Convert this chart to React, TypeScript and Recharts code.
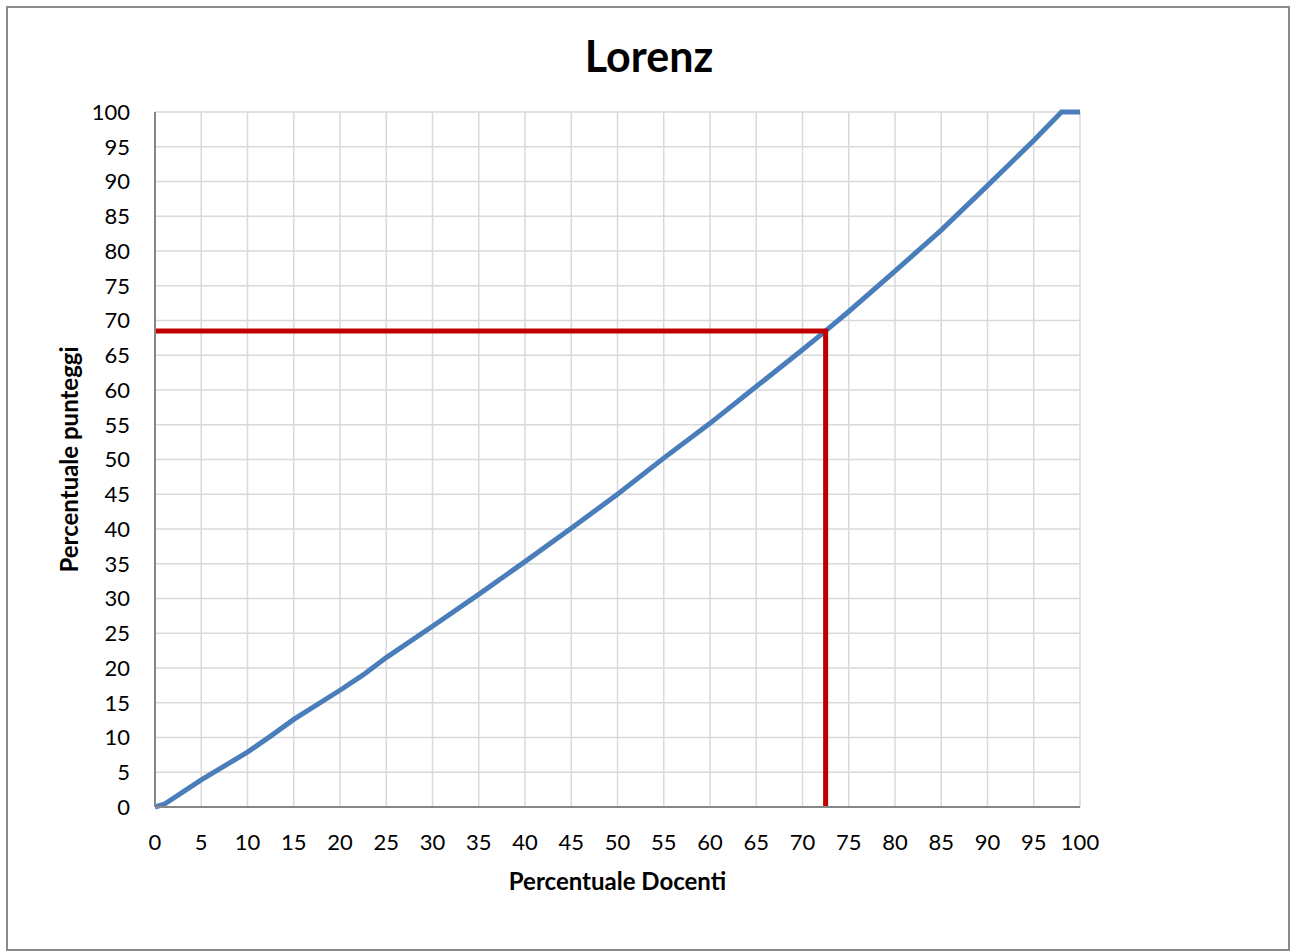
import React from 'react';
import {
  LineChart,
  Line,
  XAxis,
  YAxis,
  CartesianGrid,
  Label
} from 'recharts';

// percentuale docenti (x) -> percentuale punteggi (y)
const docenti = [0, 1, 5, 10, 12.5, 15, 20, 22.5, 25, 30, 35, 40, 45, 50, 55, 60, 65, 70, 72.5, 75, 80, 85, 90, 95, 98, 100];
const punteggi = [0, 0.4, 3.9, 7.9, 10.2, 12.6, 16.8, 19, 21.5, 26, 30.6, 35.3, 40.1, 45, 50.2, 55.2, 60.5, 65.8, 68.5, 71.3, 77.1, 83, 89.4, 95.9, 100, 100];

// red guide: 72.5% of teachers -> 68.5% of scores
const guideX = [0, 72.5, 72.5];
const guideY = [68.5, 68.5, 0];

const ticks = [0, 5, 10, 15, 20, 25, 30, 35, 40, 45, 50, 55, 60, 65, 70, 75, 80, 85, 90, 95, 100];

const lorenzData = docenti.map((x, i) => ({ x, y: punteggi[i] }));
const guideData = guideX.map((x, i) => ({ x, y: guideY[i] }));

const font = 'Lato, "Open Sans", sans-serif';

const App: React.FC = () => {
  return (
    <div
      style={{
        position: 'absolute',
        left: 6,
        top: 6,
        width: 1284,
        height: 945,
        boxSizing: 'border-box',
        border: '2px solid #8c8c8c',
        background: '#fff',
        fontFamily: font
      }}
    >
      <div
        style={{
          position: 'absolute',
          left: 0,
          right: 0,
          top: 22,
          textAlign: 'center',
          fontSize: 43,
          fontWeight: 'bold',
          color: '#000',
          marginLeft: 2
        }}
      >
        Lorenz
      </div>
      <LineChart
        width={1280}
        height={941}
        margin={{ top: 104, right: 208, left: 67, bottom: 112 }}
        style={{ fontFamily: font }}
      >
        <CartesianGrid stroke="#d9d9d9" strokeWidth={1.5} />
        <XAxis
          type="number"
          dataKey="x"
          domain={[0, 100]}
          ticks={ticks}
          interval={0}
          allowDuplicatedCategory={false}
          height={30}
          tickLine={false}
          tickSize={0}
          tickMargin={27}
          axisLine={{ stroke: '#868686', strokeWidth: 2 }}
          tick={{ fill: '#000', fontSize: 22 }}
        >
          <Label
            value="Percentuale Docenti"
            position="bottom"
            offset={36}
            style={{ fontWeight: 'bold', fontSize: 24, fill: '#000' }}
          />
        </XAxis>
        <YAxis
          type="number"
          dataKey="y"
          domain={[0, 100]}
          ticks={ticks}
          interval={0}
          width={80}
          tickLine={false}
          tickSize={0}
          tickMargin={25}
          axisLine={{ stroke: '#868686', strokeWidth: 2 }}
          tick={{ fill: '#000', fontSize: 22 }}
        >
          <Label
            value="Percentuale punteggi"
            angle={-90}
            position="left"
            offset={6}
            style={{ fontWeight: 'bold', fontSize: 24, fill: '#000', textAnchor: 'middle' }}
          />
        </YAxis>
        <Line
          data={lorenzData}
          dataKey="y"
          type="linear"
          stroke="#4a7ebb"
          strokeWidth={5}
          dot={false}
          isAnimationActive={false}
        />
        <Line
          data={guideData}
          dataKey="y"
          type="linear"
          stroke="#c00000"
          strokeWidth={5}
          dot={false}
          isAnimationActive={false}
        />
      </LineChart>
    </div>
  );
};

export default App;
